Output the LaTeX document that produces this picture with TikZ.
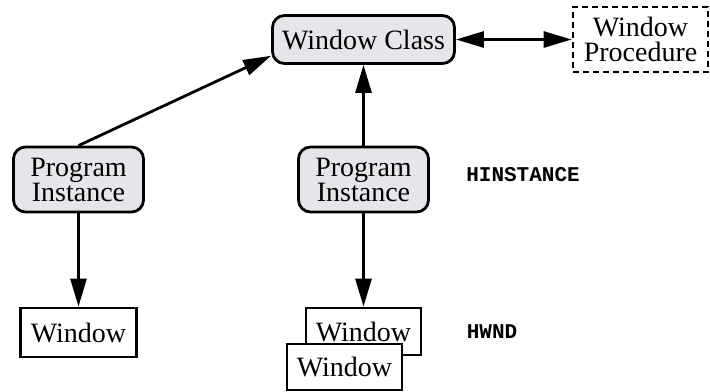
\documentclass[tikz,border=0pt]{standalone}
\usepackage{fontspec}
\setmainfont{Liberation Serif}
\setmonofont{Liberation Mono}
\usetikzlibrary{arrows.meta}
\definecolor{boxgray}{RGB}{230,230,234}

\begin{document}
\begin{tikzpicture}[x=0.5pt, y=-0.5pt, line width=1.4pt,
round_style/.style={draw=black,fill=boxgray,rounded corners=6pt,align=center,inner sep=0pt,font=\fontsize{14}{12.5}\selectfont},
box_style/.style={draw=black,fill=white,inner sep=0pt,font=\fontsize{14}{12.5}\selectfont},
dash_style/.style={draw=black,dash pattern=on 3pt off 2pt,align=center,inner sep=0pt,font=\fontsize{14}{12.5}\selectfont},
label_style/.style={font=\ttfamily\bfseries\fontsize{10.5}{12}\selectfont},
edge_style/.style={draw=black,line width=1.4pt,-{Triangle[length=14pt,width=8pt]}}]
\useasboundingbox (0,0) rectangle (710,391);

\node[round_style, minimum width=91pt, minimum height=24pt] (wc) at (363.5,39.5) {Window Class};
\node[dash_style, minimum width=67.5pt, minimum height=32.5pt] (wp) at (640.5,39.5) {Window\\Procedure};
\node[round_style, minimum width=65pt, minimum height=32.5pt] (pil) at (78.5,179.5) {Program\\Instance};
\node[round_style, minimum width=65pt, minimum height=32.5pt] (pim) at (363.5,179.5) {Program\\Instance};
\node[box_style, minimum width=58pt, minimum height=24.5pt] (wl) at (78.5,332.5) {Window};
\node[box_style, minimum width=57.5pt, minimum height=23.5pt] (wb) at (363.5,331.5) {Window};
\node[box_style, minimum width=57.5pt, minimum height=23pt] (wf) at (344.5,367) {Window};
\node[label_style] (hi) at (523,175) {HINSTANCE};
\node[label_style] (hw) at (492,332) {HWND};

\draw[edge_style, {Triangle[length=14pt,width=8pt]}-{Triangle[length=14pt,width=8pt]}] (wc) -- (wp);
\draw[edge_style] (pil.north) -- (wc.-170);
\draw[edge_style] (pim) -- (wc);
\draw[edge_style] (pil) -- (wl);
\draw[edge_style] (pim) -- (wb);

\end{tikzpicture}
\end{document}
